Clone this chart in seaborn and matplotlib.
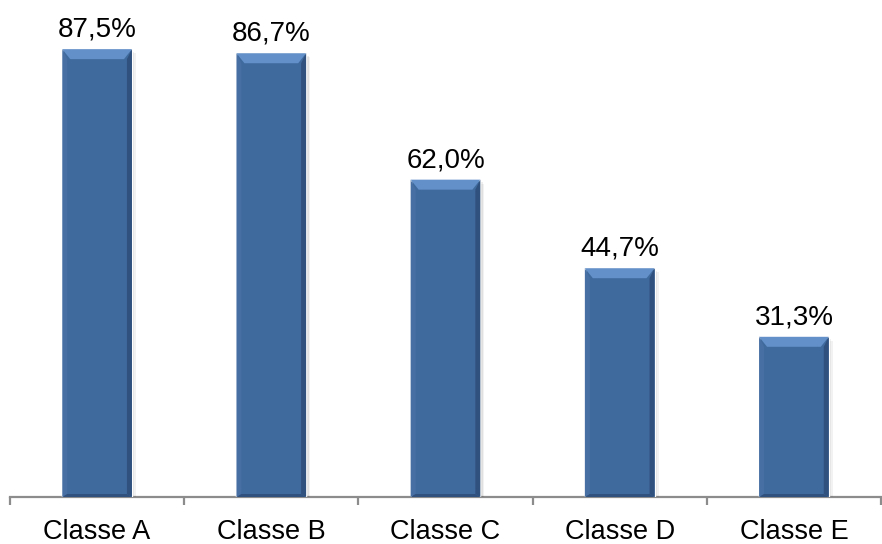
import matplotlib
matplotlib.use("Agg")
import matplotlib.pyplot as plt
from matplotlib.patches import Polygon, Rectangle
import seaborn as sns
import pandas as pd

categories = ["Classe A", "Classe B", "Classe C", "Classe D", "Classe E"]
values = [87.5, 86.7, 62.0, 44.7, 31.3]
value_labels = ["87,5%", "86,7%", "62,0%", "44,7%", "31,3%"]

sns.set_theme(style="white")
plt.rcParams["font.family"] = ["Liberation Sans", "DejaVu Sans"]

df = pd.DataFrame({"classe": categories, "pct": values})

W, H = 882, 544
fig = plt.figure(figsize=(W / 100, H / 100), dpi=100)
ax = fig.add_axes([10 / W, 47 / H, 871 / W, 497 / H])

face = "#3f6a9e"
sns.barplot(data=df, x="classe", y="pct", color=face, width=0.4,
            saturation=1, ax=ax, zorder=2)

ax.set_xlim(-0.5, -0.5 + 871 / 176.9)
ax.set_ylim(0, 97.1)
ax.set_xlabel("")
ax.set_ylabel("")

for s in ["left", "right", "top"]:
    ax.spines[s].set_visible(False)
ax.spines["bottom"].set_color("#8c8c8c")
ax.spines["bottom"].set_linewidth(1.6)
ax.spines["bottom"].set_zorder(1)
ax.set_yticks([])

# category labels at centres, tick marks on the category boundaries
ax.set_xticks(range(len(categories)))
ax.set_xticklabels(categories, fontsize=19.5, color="black")
ax.tick_params(axis="x", which="major", length=0, pad=15.5)
ax.set_xticks([i - 0.5 for i in range(len(categories) + 1)], minor=True)
ax.tick_params(axis="x", which="minor", length=6, width=1.6,
               color="#8c8c8c", bottom=True)

# pixel -> data conversion for the bevel details
fig.canvas.draw()
px_x = (ax.get_xlim()[1] - ax.get_xlim()[0]) / ax.bbox.width
px_y = (ax.get_ylim()[1] - ax.get_ylim()[0]) / ax.bbox.height

bars = [p for p in ax.patches if isinstance(p, Rectangle)]
for bar, lab in zip(bars, value_labels):
    x0 = bar.get_x()
    w = bar.get_width()
    h = bar.get_height()
    x1 = x0 + w
    bx = 8 * px_x
    by = 10 * px_y
    sx = 5 * px_x
    # soft shadow
    for k, a in ((4, 0.05), (2.5, 0.07)):
        ax.add_patch(Rectangle((x0 + k * px_x * 0.5, -k * px_y), w + k * px_x * 0.5, h,
                               color="#000000", alpha=a, lw=0, zorder=1.5))
    # top bevel
    ax.add_patch(Polygon([(x0, h), (x1, h), (x1 - bx, h - by), (x0 + bx, h - by)],
                         closed=True, color="#6390c8", lw=0, zorder=3))
    # left bevel
    ax.add_patch(Polygon([(x0, h), (x0 + sx, h - by), (x0 + sx, 3 * px_y), (x0, 0)],
                         closed=True, color="#476fa3", lw=0, zorder=3))
    # right bevel
    ax.add_patch(Polygon([(x1, h), (x1 - sx, h - by), (x1 - sx, 3 * px_y), (x1, 0)],
                         closed=True, color="#30507d", lw=0, zorder=3))
    # bottom bevel
    ax.add_patch(Polygon([(x0, 0), (x1, 0), (x1 - sx, 3 * px_y), (x0 + sx, 3 * px_y)],
                         closed=True, color="#30507d", lw=0, zorder=3))
    ax.annotate(lab, (x0 + w / 2, h), xytext=(0, 9), textcoords="offset points",
                ha="center", va="baseline", fontsize=20, color="black")

fig.savefig("out.png", dpi=100)
